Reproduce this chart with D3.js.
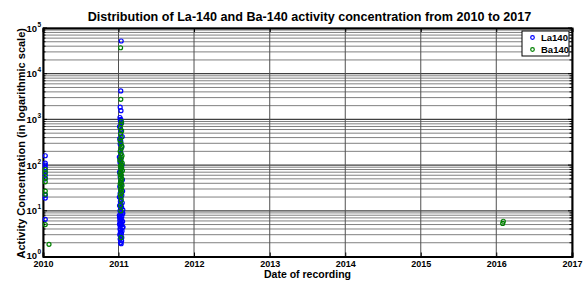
<!DOCTYPE html>
<html><head><meta charset="utf-8">
<script src="https://cdn.jsdelivr.net/npm/d3@7"></script>
<style>body{margin:0;background:#fff}svg{display:block}text{font-family:"Liberation Sans",Arial,sans-serif;font-weight:bold}</style>
</head><body>
<script>
// ---- data ----
const title = "Distribution of La-140 and Ba-140 activity concentration from 2010 to 2017";
const xLabel = "Date of recording";
const yLabel = "Activity Concentration (in logarithmic scale)";
const seriesNames = ["La140", "Ba140"];
const yearTicks = [2010, 2011, 2012, 2013, 2014, 2015, 2016, 2017];
const yExponents = [0, 1, 2, 3, 4, 5];

const laDates = [
 "2010-01-12","2010-01-12","2010-01-12","2010-01-12","2010-01-12","2010-01-12","2010-01-12","2010-01-12","2010-01-12","2010-01-12",
 "2011-01-14","2011-01-12","2011-01-09","2011-01-13","2011-01-08","2011-01-12","2011-01-10","2011-01-16","2011-01-06","2011-01-12",
 "2011-01-11","2011-01-19","2011-01-07","2011-01-12","2011-01-09","2011-01-17","2011-01-11","2011-01-13","2011-01-05","2011-01-12",
 "2011-01-08","2011-01-18","2011-01-11","2011-01-13","2011-01-06","2011-01-12","2011-01-09","2011-01-20","2011-01-11","2011-01-15",
 "2011-01-07","2011-01-12","2011-01-21","2011-01-09","2011-01-17","2011-01-05","2011-01-13","2011-01-10","2011-01-19","2011-01-12",
 "2011-01-06","2011-01-16","2011-01-11","2011-01-22","2011-01-08","2011-01-14","2011-01-12","2011-01-19","2011-01-05","2011-01-17",
 "2011-01-10","2011-01-14","2011-01-07","2011-01-21","2011-01-12","2011-01-06","2011-01-16","2011-01-09","2011-01-20","2011-01-08",
 "2011-01-12","2011-01-18","2011-01-10","2011-01-15","2011-01-07","2011-01-13","2011-01-17","2011-01-09","2011-01-16","2011-01-11",
 "2011-01-14","2011-01-22","2011-01-06","2011-01-18","2011-01-08","2011-01-23"
];
const laValues = [
 160, 110, 100, 88, 72, 60, 50, 22, 19, 6.5,
 52000, 4200, 1850, 1550, 1100, 1000, 950, 850, 700, 600,
 500, 420, 380, 330, 290, 250, 210, 180, 150, 130,
 115, 100, 90, 80, 70, 62, 55, 48, 42, 38,
 34, 30, 27, 24, 22, 20, 18, 16, 15, 14,
 13, 12, 11, 10.5, 10, 9.5, 9, 8.5, 8, 7.5,
 7, 6.6, 6.2, 5.8, 5.5, 5.2, 4.9, 4.6, 4.3, 4.0,
 3.8, 3.6, 3.4, 3.2, 3.0, 2.8, 2.6, 2.4, 2.2, 2.0,
 1.9, 8.8, 7.2, 6.0, 5.0, 4.4
];
const baDates = [
 "2010-01-12","2010-01-12","2010-01-12","2010-01-12","2010-01-12","2010-01-12","2010-01-12","2010-01-30",
 "2011-01-11","2011-01-12","2011-01-15","2011-01-14","2011-01-10","2011-01-16","2011-01-11","2011-01-14","2011-01-08","2011-01-13",
 "2011-01-17","2011-01-14","2011-01-09","2011-01-13","2011-01-18","2011-01-15","2011-01-07","2011-01-13","2011-01-19","2011-01-14",
 "2011-01-10","2011-01-16","2011-01-12","2011-01-20","2011-01-13","2011-01-08","2011-01-15","2011-01-11","2011-01-17","2011-01-12",
 "2011-01-14","2011-01-09","2011-01-18","2011-01-11","2011-01-15","2011-01-12","2011-01-16","2011-01-10","2011-01-13","2011-01-14",
 "2011-01-11","2011-01-12","2011-01-13",
 "2016-02-01","2016-02-04"
];
const baValues = [
 80, 68, 52, 43, 27, 23, 5.0, 1.85,
 37000, 2750, 900, 800, 650, 560, 480, 400, 350, 300,
 260, 230, 200, 175, 160, 145, 130, 120, 110, 100,
 95, 88, 82, 76, 70, 65, 60, 55, 50, 46,
 42, 39, 36, 33, 30, 28, 25, 23, 20, 17,
 13, 10, 2.6,
 5.3, 5.9
];

// ---- layout ----
const W = 583, H = 281;
const m = {left: 43, right: 572, top: 28, bottom: 256.5};
const svg = d3.select("body").append("svg").attr("width", W).attr("height", H);

const x = d3.scaleTime()
  .domain([new Date(yearTicks[0], 0, 1), new Date(yearTicks[yearTicks.length - 1], 0, 1)])
  .range([m.left, m.right]);
const y = d3.scaleLog().domain([Math.pow(10, yExponents[0]), Math.pow(10, yExponents[yExponents.length - 1])])
  .range([m.bottom, m.top]);

const parse = d3.timeParse("%Y-%m-%d");
const yearDates = yearTicks.map(yr => new Date(yr, 0, 1));
const allYTicks = y.ticks();
const minorTicks = allYTicks.filter(v => Math.abs(Math.log10(v) - Math.round(Math.log10(v))) > 1e-9);
const majorTicks = yExponents.map(e => Math.pow(10, e));

// grid
const grid = svg.append("g");
grid.selectAll(".hmin").data(minorTicks).join("line")
  .attr("x1", m.left).attr("x2", m.right).attr("y1", d => y(d)).attr("y2", d => y(d))
  .attr("stroke", "#808080").attr("stroke-width", 1);
grid.selectAll(".hmaj").data(majorTicks).join("line")
  .attr("x1", m.left).attr("x2", m.right).attr("y1", d => y(d)).attr("y2", d => y(d))
  .attr("stroke", "#404040").attr("stroke-width", 1.2);
grid.selectAll(".v").data(yearDates).join("line")
  .attr("x1", d => x(d)).attr("x2", d => x(d)).attr("y1", m.top).attr("y2", m.bottom)
  .attr("stroke", "#505050").attr("stroke-width", 1);

// axes (box with inward ticks)
const xb = svg.append("g").attr("transform", `translate(0,${m.bottom})`)
  .call(d3.axisBottom(x).tickValues(yearDates).tickSize(-4).tickFormat(d3.timeFormat("%Y")));
const xt = svg.append("g").attr("transform", `translate(0,${m.top})`)
  .call(d3.axisTop(x).tickValues(yearDates).tickSize(-4).tickFormat(""));
const yl = svg.append("g").attr("transform", `translate(${m.left},0)`)
  .call(d3.axisLeft(y).tickValues(allYTicks).tickSize(0).tickFormat(""));
const yr = svg.append("g").attr("transform", `translate(${m.right},0)`)
  .call(d3.axisRight(y).tickValues(allYTicks).tickSize(0).tickFormat(""));
[xb, xt, yl, yr].forEach(g => {
  g.select(".domain").attr("stroke", "#000").attr("stroke-width", 2);
  g.selectAll(".tick line").attr("stroke", "#000");
});
xb.selectAll(".tick text").attr("dy", 0).attr("y", 10.3).attr("font-size", 9).attr("font-weight", "bold")
  .attr("font-family", '"Liberation Sans",Arial,sans-serif').attr("fill", "#000");
// y ticks inward on left and right
[m.left, m.right].forEach((px, i) => {
  const dir = i === 0 ? 1 : -1;
  svg.append("g").selectAll("line").data(allYTicks).join("line")
    .attr("x1", px).attr("x2", d => px + dir * (majorTicks.includes(d) ? 4 : 2.5))
    .attr("y1", d => y(d)).attr("y2", d => y(d)).attr("stroke", "#000");
});

// y tick labels 10^n
const ylab = svg.append("g");
yExponents.forEach(e => {
  const off = e === 0 ? -1.5 : 0;
  ylab.append("text").attr("x", 37).attr("y", y(Math.pow(10, e)) + 3.5 + off)
    .attr("text-anchor", "end").attr("font-size", 9.5).text("10");
  ylab.append("text").attr("x", 37.5).attr("y", y(Math.pow(10, e)) - 1.5 + off)
    .attr("font-size", 6.5).text(String(e));
});

// points
const pts = svg.append("g");
const laData = laDates.map((d, i) => ({date: parse(d), v: laValues[i]}));
const baData = baDates.map((d, i) => ({date: parse(d), v: baValues[i]}));
pts.selectAll(".la").data(laData).join("circle")
  .attr("cx", d => x(d.date)).attr("cy", d => y(d.v)).attr("r", 2)
  .attr("fill", "none").attr("stroke", "#0000ff").attr("stroke-width", 1.2);
pts.selectAll(".ba").data(baData).join("circle")
  .attr("cx", d => x(d.date)).attr("cy", d => y(d.v)).attr("r", 2)
  .attr("fill", "none").attr("stroke", "#008000").attr("stroke-width", 1.2);

// title and labels
svg.append("text").attr("x", (m.left + m.right) / 2 + 2).attr("y", 20.5).attr("text-anchor", "middle")
  .attr("font-size", 12.6).text(title);
svg.append("text").attr("x", (m.left + m.right) / 2).attr("y", 278).attr("text-anchor", "middle")
  .attr("font-size", 10.5).text(xLabel);
svg.append("text").attr("transform", `translate(24.5,${(m.top + m.bottom) / 2 + 1}) rotate(-90)`)
  .attr("text-anchor", "middle").attr("font-size", 11).text(yLabel);

// legend
const lg = svg.append("g");
lg.append("rect").attr("x", 522).attr("y", 31).attr("width", 47).attr("height", 25)
  .attr("fill", "#fff").attr("stroke", "#000").attr("stroke-width", 1);
const colors = ["#0000ff", "#008000"];
seriesNames.forEach((n, i) => {
  const cy = 37.5 + i * 12;
  lg.append("circle").attr("cx", 532.5).attr("cy", cy).attr("r", 1.8)
    .attr("fill", "none").attr("stroke", colors[i]).attr("stroke-width", 1.2);
  lg.append("text").attr("x", 541).attr("y", cy + 3.3).attr("font-size", 9.5).text(n);
});
</script>
</body></html>
